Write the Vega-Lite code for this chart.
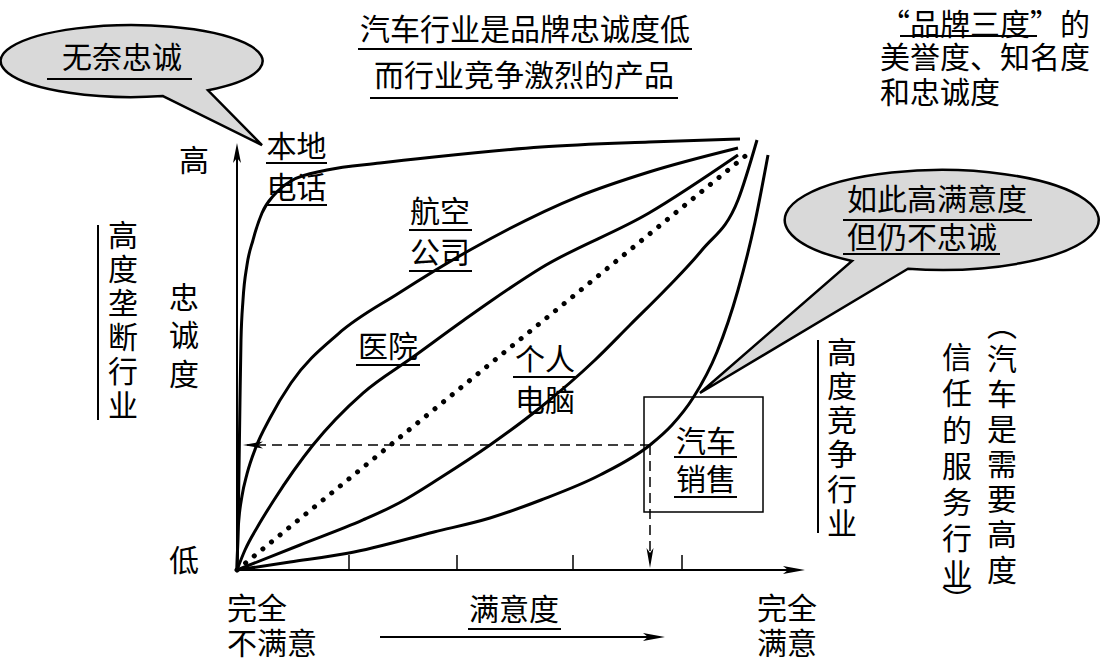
{
  "$schema": "https://vega.github.io/schema/vega-lite/v6.json",
  "width": 1101,
  "height": 663,
  "autosize": {"type": "none"},
  "padding": 0,
  "background": "white",
  "config": {"view": {"stroke": null}, "font": "Noto Sans CJK SC"},
  "resolve": {"scale": {"shape": "independent"}},
  "datasets": {
    "bubbles": [
      {"x": -20.588, "y": 118.37, "name": "b1"},
      {"x": 138.235, "y": 81.40, "name": "b2"}
    ],
    "curves": [
      {"series": "本地电话", "i": 0, "x": 0, "y": 0},
      {"series": "本地电话", "i": 1, "x": 0.196, "y": 9.30},
      {"series": "本地电话", "i": 2, "x": 0.392, "y": 23.26},
      {"series": "本地电话", "i": 3, "x": 0.588, "y": 39.53},
      {"series": "本地电话", "i": 4, "x": 0.784, "y": 53.49},
      {"series": "本地电话", "i": 5, "x": 1.176, "y": 62.79},
      {"series": "本地电话", "i": 6, "x": 1.961, "y": 70.93},
      {"series": "本地电话", "i": 7, "x": 3.137, "y": 76.74},
      {"series": "本地电话", "i": 8, "x": 4.902, "y": 83.02},
      {"series": "本地电话", "i": 9, "x": 7.451, "y": 87.44},
      {"series": "本地电话", "i": 10, "x": 10.588, "y": 90.47},
      {"series": "本地电话", "i": 11, "x": 17.647, "y": 93.02},
      {"series": "本地电话", "i": 12, "x": 28.039, "y": 94.65},
      {"series": "本地电话", "i": 13, "x": 38.627, "y": 96.05},
      {"series": "本地电话", "i": 14, "x": 59.608, "y": 98.37},
      {"series": "本地电话", "i": 15, "x": 80.784, "y": 99.53},
      {"series": "本地电话", "i": 16, "x": 98.627, "y": 100.23},
      {"series": "航空公司", "i": 0, "x": 0, "y": 0},
      {"series": "航空公司", "i": 1, "x": 0.196, "y": 8.84},
      {"series": "航空公司", "i": 2, "x": 0.392, "y": 12.09},
      {"series": "航空公司", "i": 3, "x": 0.980, "y": 17.21},
      {"series": "航空公司", "i": 4, "x": 1.961, "y": 22.33},
      {"series": "航空公司", "i": 5, "x": 3.725, "y": 28.60},
      {"series": "航空公司", "i": 6, "x": 6.471, "y": 35.35},
      {"series": "航空公司", "i": 7, "x": 10.588, "y": 43.49},
      {"series": "航空公司", "i": 8, "x": 19.804, "y": 54.88},
      {"series": "航空公司", "i": 9, "x": 31.765, "y": 64.42},
      {"series": "航空公司", "i": 10, "x": 45.686, "y": 74.42},
      {"series": "航空公司", "i": 11, "x": 66.667, "y": 86.74},
      {"series": "航空公司", "i": 12, "x": 80.784, "y": 92.56},
      {"series": "航空公司", "i": 13, "x": 98.235, "y": 98.14},
      {"series": "医院", "i": 0, "x": 0, "y": 0},
      {"series": "医院", "i": 1, "x": 1.569, "y": 4.65},
      {"series": "医院", "i": 2, "x": 4.118, "y": 10.23},
      {"series": "医院", "i": 3, "x": 7.255, "y": 16.28},
      {"series": "医院", "i": 4, "x": 14.902, "y": 29.07},
      {"series": "医院", "i": 5, "x": 24.706, "y": 41.16},
      {"series": "医院", "i": 6, "x": 34.510, "y": 49.53},
      {"series": "医院", "i": 7, "x": 44.510, "y": 58.14},
      {"series": "医院", "i": 8, "x": 49.804, "y": 62.56},
      {"series": "医院", "i": 9, "x": 59.608, "y": 70.23},
      {"series": "医院", "i": 10, "x": 80.784, "y": 83.02},
      {"series": "医院", "i": 11, "x": 98.235, "y": 96.51},
      {"series": "个人电脑", "i": 0, "x": 0, "y": 0},
      {"series": "个人电脑", "i": 1, "x": 12.353, "y": 5.81},
      {"series": "个人电脑", "i": 2, "x": 24.706, "y": 11.63},
      {"series": "个人电脑", "i": 3, "x": 31.765, "y": 15.58},
      {"series": "个人电脑", "i": 4, "x": 39.804, "y": 21.40},
      {"series": "个人电脑", "i": 5, "x": 49.608, "y": 29.07},
      {"series": "个人电脑", "i": 6, "x": 59.608, "y": 37.91},
      {"series": "个人电脑", "i": 7, "x": 70.196, "y": 48.84},
      {"series": "个人电脑", "i": 8, "x": 77.059, "y": 56.98},
      {"series": "个人电脑", "i": 9, "x": 84.314, "y": 65.58},
      {"series": "个人电脑", "i": 10, "x": 91.176, "y": 74.42},
      {"series": "个人电脑", "i": 11, "x": 98.235, "y": 86.05},
      {"series": "个人电脑", "i": 12, "x": 101.961, "y": 100.0},
      {"series": "汽车销售", "i": 0, "x": 0, "y": 0},
      {"series": "汽车销售", "i": 1, "x": 10.392, "y": 1.86},
      {"series": "汽车销售", "i": 2, "x": 21.961, "y": 3.95},
      {"series": "汽车销售", "i": 3, "x": 38.627, "y": 8.84},
      {"series": "汽车销售", "i": 4, "x": 49.608, "y": 12.09},
      {"series": "汽车销售", "i": 5, "x": 59.608, "y": 16.28},
      {"series": "汽车销售", "i": 6, "x": 71.176, "y": 22.09},
      {"series": "汽车销售", "i": 7, "x": 80.980, "y": 29.07},
      {"series": "汽车销售", "i": 8, "x": 85.294, "y": 33.72},
      {"series": "汽车销售", "i": 9, "x": 89.412, "y": 40.0},
      {"series": "汽车销售", "i": 10, "x": 94.118, "y": 50.70},
      {"series": "汽车销售", "i": 11, "x": 98.235, "y": 65.12},
      {"series": "汽车销售", "i": 12, "x": 101.569, "y": 80.93},
      {"series": "汽车销售", "i": 13, "x": 104.118, "y": 96.51}
    ],
    "diag": [
      {"x": 0, "y": 0},
      {"x": 100.392, "y": 96.98}
    ],
    "dashed": [
      {"series": "h", "i": 0, "x": 80.98, "y": 29.07},
      {"series": "h", "i": 1, "x": 1.96, "y": 29.07},
      {"series": "v", "i": 0, "x": 80.98, "y": 29.07},
      {"series": "v", "i": 1, "x": 80.98, "y": 3.49}
    ],
    "box": [
      {"x": 79.804, "x2": 103.137, "y": 40.23, "y2": 13.49}
    ],
    "axes": [
      {"x": 0, "y": 0, "x2": 0, "y2": 97.67},
      {"x": 0, "y": 0, "x2": 108.43, "y2": 0},
      {"x": 28.04, "y": -15.58, "x2": 80.98, "y2": -15.58}
    ],
    "underlines": [
      {"x": 23.725, "x2": 89.216, "y": 121.16, "y2": 121.16},
      {"x": 26.078, "x2": 86.471, "y": 109.77, "y2": 109.77},
      {"x": -37.255, "x2": -8.824, "y": 114.19, "y2": 114.19},
      {"x": 130.0, "x2": 156.863, "y": 124.19, "y2": 124.19},
      {"x": 5.686, "x2": 17.647, "y": 94.65, "y2": 94.65},
      {"x": 5.686, "x2": 17.647, "y": 84.88, "y2": 84.88},
      {"x": 33.725, "x2": 46.078, "y": 79.07, "y2": 79.07},
      {"x": 33.725, "x2": 46.078, "y": 69.53, "y2": 69.53},
      {"x": 23.333, "x2": 35.882, "y": 47.67, "y2": 47.67},
      {"x": 54.118, "x2": 66.667, "y": 44.88, "y2": 44.88},
      {"x": 85.686, "x2": 98.039, "y": 26.28, "y2": 26.28},
      {"x": 85.686, "x2": 98.039, "y": 16.98, "y2": 16.98},
      {"x": 118.824, "x2": 155.882, "y": 81.40, "y2": 81.40},
      {"x": 118.824, "x2": 149.608, "y": 73.49, "y2": 73.49},
      {"x": 45.294, "x2": 63.529, "y": -13.72, "y2": -13.72},
      {"x": -27.255, "x2": -27.255, "y": 80.23, "y2": 34.88},
      {"x": 113.922, "x2": 113.922, "y": 53.49, "y2": 8.60}
    ],
    "ticks": [
      {"x": 21.961, "x2": 21.961, "y": 0, "y2": 3.49},
      {"x": 43.137, "x2": 43.137, "y": 0, "y2": 3.49},
      {"x": 65.882, "x2": 65.882, "y": 0, "y2": 3.49},
      {"x": 87.255, "x2": 87.255, "y": 0, "y2": 3.49}
    ],
    "arrows": [
      {"x": 0, "y": 99.30, "dir": "up"},
      {"x": 111.37, "y": 0, "dir": "right"},
      {"x": 1.176, "y": 29.07, "dir": "left"},
      {"x": 80.98, "y": 0.47, "dir": "down"},
      {"x": 83.92, "y": -15.58, "dir": "right"}
    ],
    "textsCenter": [
      {"x": 56.471, "y": 125.81, "t": "汽车行业是品牌忠诚度低"},
      {"x": 56.275, "y": 115.12, "t": "而行业竞争激烈的产品"},
      {"x": -22.549, "y": 119.30, "t": "无奈忠诚"},
      {"x": 11.667, "y": 98.60, "t": "本地"},
      {"x": 11.667, "y": 89.07, "t": "电话"},
      {"x": 39.804, "y": 83.49, "t": "航空"},
      {"x": 39.804, "y": 73.95, "t": "公司"},
      {"x": 29.608, "y": 52.09, "t": "医院"},
      {"x": 60.392, "y": 49.07, "t": "个人"},
      {"x": 60.392, "y": 39.53, "t": "电脑"},
      {"x": 91.961, "y": 30.0, "t": "汽车"},
      {"x": 91.961, "y": 21.16, "t": "销售"},
      {"x": -8.431, "y": 95.35, "t": "高"},
      {"x": -10.392, "y": 2.33, "t": "低"},
      {"x": 54.314, "y": -9.07, "t": "满意度"},
      {"x": 107.843, "y": -8.84, "t": "完全"},
      {"x": 107.843, "y": -17.0, "t": "满意"},
      {"x": 150.0, "y": 57.0, "t": "︵"},
      {"x": 141.176, "y": -6.98, "t": "︶"},
      {"x": -22.353, "y": 77.91, "t": "高"},
      {"x": -22.353, "y": 70.00, "t": "度"},
      {"x": -22.353, "y": 62.09, "t": "垄"},
      {"x": -22.353, "y": 54.19, "t": "断"},
      {"x": -22.353, "y": 46.28, "t": "行"},
      {"x": -22.353, "y": 38.37, "t": "业"},
      {"x": -10.392, "y": 63.49, "t": "忠"},
      {"x": -10.392, "y": 54.65, "t": "诚"},
      {"x": -10.392, "y": 45.58, "t": "度"},
      {"x": 118.627, "y": 50.70, "t": "高"},
      {"x": 118.627, "y": 42.79, "t": "度"},
      {"x": 118.627, "y": 34.88, "t": "竞"},
      {"x": 118.627, "y": 26.98, "t": "争"},
      {"x": 118.627, "y": 18.84, "t": "行"},
      {"x": 118.627, "y": 10.93, "t": "业"},
      {"x": 150.0, "y": 49.07, "t": "汽"},
      {"x": 150.0, "y": 40.93, "t": "车"},
      {"x": 150.0, "y": 32.79, "t": "是"},
      {"x": 150.0, "y": 24.65, "t": "需"},
      {"x": 150.0, "y": 16.51, "t": "要"},
      {"x": 150.0, "y": 8.37, "t": "高"},
      {"x": 150.0, "y": 0.0, "t": "度"},
      {"x": 141.176, "y": 49.53, "t": "信"},
      {"x": 141.176, "y": 41.16, "t": "任"},
      {"x": 141.176, "y": 32.56, "t": "的"},
      {"x": 141.176, "y": 24.19, "t": "服"},
      {"x": 141.176, "y": 15.81, "t": "务"},
      {"x": 141.176, "y": 7.44, "t": "行"},
      {"x": 141.176, "y": -0.93, "t": "业"}
    ],
    "textsLeft": [
      {"x": 126.078, "y": 126.98, "t": "“品牌三度”的"},
      {"x": 126.078, "y": 119.30, "t": "美誉度、知名度"},
      {"x": 126.078, "y": 111.16, "t": "和忠诚度"},
      {"x": 119.608, "y": 86.28, "t": "如此高满意度"},
      {"x": 119.608, "y": 77.44, "t": "但仍不忠诚"},
      {"x": -1.961, "y": -8.84, "t": "完全"},
      {"x": -1.961, "y": -17.0, "t": "不满意"}
    ]
  },
  "encoding": {
    "x": {"field": "x", "type": "quantitative", "scale": {"domain": [-46.47, 169.41], "nice": false, "zero": false}, "axis": null},
    "y": {"field": "y", "type": "quantitative", "scale": {"domain": [-21.63, 132.56], "nice": false, "zero": false}, "axis": null}
  },
  "layer": [
    {
      "data": {"name": "bubbles"},
      "mark": {"type": "point", "filled": true, "size": 4, "fill": "#d9d9d9", "stroke": "#000", "strokeWidth": 2.5, "opacity": 1, "fillOpacity": 1, "strokeJoin": "miter"},
      "encoding": {
        "shape": {"field": "name", "type": "nominal", "legend": null,
          "scale": {"domain": ["b1", "b2"], "range": [
            "M 31 35 L 130 84 L 76 29.3 A 131 36 0 1 0 31 35 Z",
            "M -34 48.8 L -242 173 L -90 41 A 157 50 0 1 1 -34 48.8 Z"
          ]}}
      }
    },
    {
      "data": {"name": "box"},
      "mark": {"type": "rect", "filled": false, "color": "#000", "strokeWidth": 1.5},
      "encoding": {"x2": {"field": "x2"}, "y2": {"field": "y2"}}
    },
    {
      "data": {"name": "curves"},
      "mark": {"type": "line", "interpolate": "monotone", "color": "#000", "strokeWidth": 3},
      "encoding": {"detail": {"field": "series", "type": "nominal"}, "order": {"field": "i", "type": "quantitative"}}
    },
    {
      "data": {"name": "diag"},
      "mark": {"type": "line", "color": "#000", "strokeWidth": 5, "strokeCap": "round", "strokeDash": [0.1, 11]},
      "encoding": {}
    },
    {
      "data": {"name": "dashed"},
      "mark": {"type": "line", "color": "#000", "strokeWidth": 1.5, "strokeDash": [10, 6]},
      "encoding": {"detail": {"field": "series", "type": "nominal"}, "order": {"field": "i", "type": "quantitative"}}
    },
    {
      "data": {"name": "axes"},
      "mark": {"type": "rule", "color": "#000", "strokeWidth": 2},
      "encoding": {"x2": {"field": "x2"}, "y2": {"field": "y2"}}
    },
    {
      "data": {"name": "underlines"},
      "mark": {"type": "rule", "color": "#000", "strokeWidth": 2},
      "encoding": {"x2": {"field": "x2"}, "y2": {"field": "y2"}}
    },
    {
      "data": {"name": "ticks"},
      "mark": {"type": "rule", "color": "#000", "strokeWidth": 1.5},
      "encoding": {"x2": {"field": "x2"}, "y2": {"field": "y2"}}
    },
    {
      "data": {"name": "arrows"},
      "mark": {"type": "point", "filled": true, "size": 4, "color": "#000", "opacity": 1, "strokeWidth": 0},
      "encoding": {
        "shape": {"field": "dir", "type": "nominal", "legend": null,
          "scale": {"domain": ["up", "down", "left", "right"], "range": [
            "M 0 0 L 4 20 L 0 15 L -4 20 Z",
            "M 0 0 L -3.5 -20 L 0 -15 L 3.5 -20 Z",
            "M 0 0 L 20 -3.5 L 15 0 L 20 3.5 Z",
            "M 0 0 L -22 -4 L -17 0 L -22 4 Z"
          ]}}
      }
    },
    {
      "data": {"name": "textsCenter"},
      "mark": {"type": "text", "align": "center", "baseline": "middle", "fontSize": 30, "font": "Noto Sans CJK SC", "color": "#000", "dy": 2},
      "encoding": {"text": {"field": "t"}}
    },
    {
      "data": {"name": "textsLeft"},
      "mark": {"type": "text", "align": "left", "baseline": "middle", "fontSize": 30, "font": "Noto Sans CJK SC", "color": "#000", "dy": 2},
      "encoding": {"text": {"field": "t"}}
    }
  ]
}
